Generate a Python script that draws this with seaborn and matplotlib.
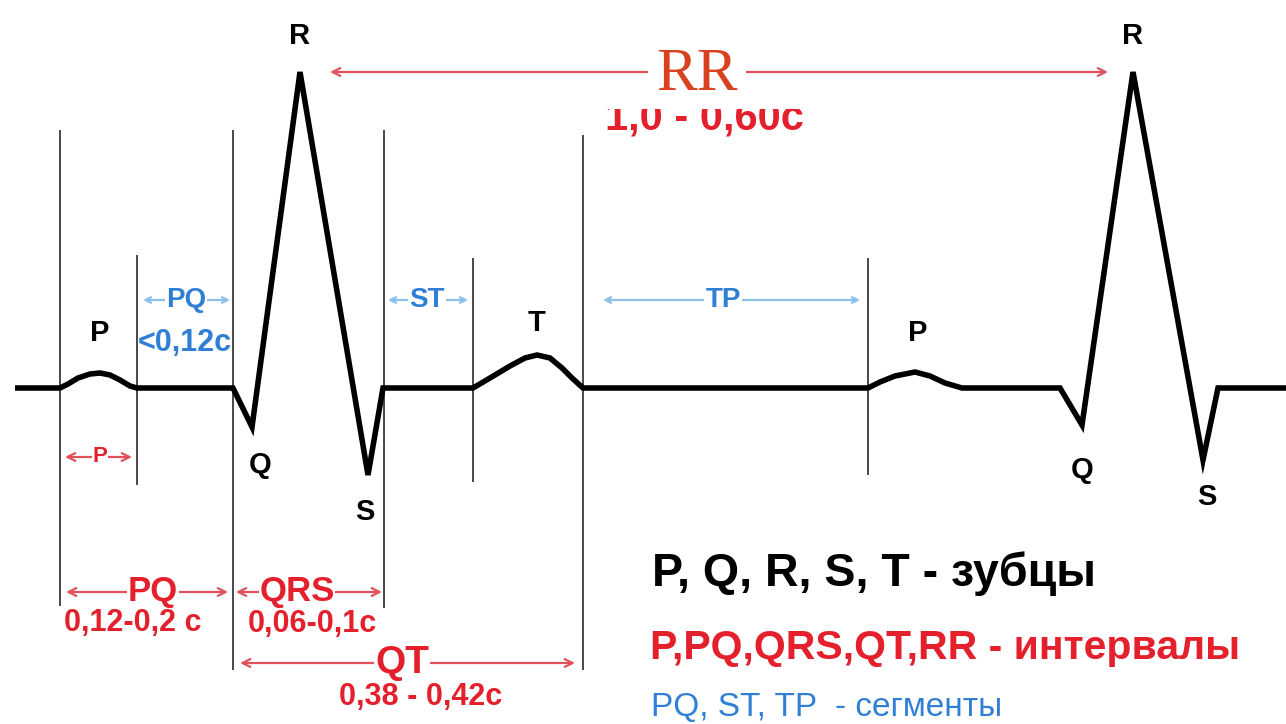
import matplotlib
matplotlib.use("Agg")
import matplotlib.pyplot as plt
import seaborn as sns
from matplotlib.patches import Rectangle

# ---------------- data (pixel-space time / amplitude of the schematic ECG) -------------
ecg_t = [15, 60, 68, 78, 90, 100, 110, 120, 130, 137,
         233, 252, 300, 368, 383,
         473, 490, 510, 525, 537, 550, 562, 572, 583,
         868, 880, 895, 915, 930, 945, 962,
         1060, 1082, 1133, 1203, 1218, 1286]
ecg_v = [388, 388, 384, 378, 374, 373, 375, 380, 386, 388,
         388, 427, 72, 475, 388,
         388, 378, 366, 358, 355, 358, 368, 378, 388,
         388, 382, 376, 372, 376, 383, 388,
         388, 425, 72, 460, 388, 388]

# vertical marker lines
vline_x = [60, 137, 233, 384, 473, 583, 868]
vline_top = [130, 255, 130, 130, 258, 135, 258]
vline_bottom = [606, 485, 670, 608, 482, 670, 475]

# wave labels
wave_labels = ["R", "R", "P", "P", "T", "Q", "S", "Q", "S"]
wave_x = [300, 1133, 100, 918, 537, 260, 365, 1082, 1207]
wave_y = [36, 36, 333, 333, 323, 465, 512, 470, 497]

# blue segment arrows (label, start, end, text x)
seg_labels = ["PQ", "ST", "TP"]
seg_start = [143, 388, 603]
seg_end = [230, 468, 860]
seg_text_x = [186, 427, 723]

# red interval arrows
int_labels = ["P", "PQ", "QRS", "QT", "RR"]
int_start = [65, 66, 236, 240, 330]
int_end = [132, 228, 382, 575, 1108]
int_y = [457, 592, 592, 663, 72]
int_text_x = [100, 153, 297, 402, 697]
int_size = [16, 25, 25, 28, 44]

dur_texts = ["0,12-0,2 с", "0,06-0,1с", "0,38 - 0,42с"]
dur_x = [133, 312, 421]
dur_y = [623, 624, 697]

legend_texts = ["P, Q, R, S, T - зубцы", "P,PQ,QRS,QT,RR - интервалы", "PQ, ST, TP  - сегменты"]
legend_y = [574, 648, 708]
legend_size = [33.5, 29.5, 24]

RED = "#e3202b"
RED_ARROW = "#e2505a"
BLUE = "#2f7fd6"
BLUE_ARROW = "#8cbfe9"

sns.set_theme(style="white")
plt.rcParams["font.family"] = ["Liberation Sans", "DejaVu Sans"]
plt.rcParams["font.weight"] = "bold"

fig = plt.figure(figsize=(12.86, 7.24), dpi=100)
ax = fig.add_axes([0, 0, 1, 1])
ax.set_xlim(0, 1286)
ax.set_ylim(724, 0)
ax.axis("off")

# vertical lines
ax.vlines(vline_x, vline_top, vline_bottom, color="#3a3a3a", lw=1.3, zorder=1)

# ECG trace
sns.lineplot(x=ecg_t, y=ecg_v, sort=False, estimator=None, color="black", lw=4.0,
             ax=ax, zorder=3)
for ln in ax.lines:
    ln.set_solid_joinstyle("miter")
    ln.set_solid_capstyle("butt")

# wave labels
for lab, x, y in zip(wave_labels, wave_x, wave_y):
    ax.text(x, y, lab, ha="center", va="center", fontsize=21, color="black", fontweight="bold")

# blue segments
for lab, s, e, tx in zip(seg_labels, seg_start, seg_end, seg_text_x):
    ax.annotate("", xy=(s, 300), xytext=(e, 300),
                arrowprops=dict(arrowstyle="<->", color=BLUE_ARROW, lw=1.6,
                                shrinkA=0, shrinkB=0, mutation_scale=10))
    ax.text(tx, 300, lab, ha="center", va="center", fontsize=20, color=BLUE,
            fontweight="bold", bbox=dict(facecolor="white", edgecolor="none", pad=1.0))
ax.text(185, 343, "<0,12с", ha="center", va="center", fontsize=22, color=BLUE, fontweight="bold")

# red intervals
for lab, s, e, y, tx, fs in zip(int_labels, int_start, int_end, int_y, int_text_x, int_size):
    ax.annotate("", xy=(s, y), xytext=(e, y),
                arrowprops=dict(arrowstyle="<->", color=RED_ARROW, lw=1.6,
                                shrinkA=0, shrinkB=0, mutation_scale=14))
    if lab == "RR":
        ax.text(tx, y + 3, lab, ha="center", va="center", fontsize=fs, color="#d8401f",
                family=["Liberation Serif", "DejaVu Serif"], fontweight="normal",
                bbox=dict(facecolor="white", edgecolor="none", pad=6))
    else:
        ax.text(tx, y, lab, ha="center", va="center", fontsize=fs, color=RED,
                fontweight="bold", bbox=dict(facecolor="white", edgecolor="none", pad=0.5))

for t, x, y in zip(dur_texts, dur_x, dur_y):
    ax.text(x, y, t, ha="center", va="center", fontsize=22, color=RED, fontweight="bold")

# RR duration, its top partly hidden as in the reference
rr_txt = ax.text(704, 130, "1,0 - 0,60с", ha="center", va="baseline", fontsize=30,
                 color=RED, fontweight="bold")
clip_patch = Rectangle((580, 109), 250, 40, transform=ax.transData,
                       facecolor="none", edgecolor="none")
ax.add_patch(clip_patch)
rr_txt.set_clip_path(clip_patch)
rr_txt.set_clip_on(True)

# legend texts
ax.text(652, legend_y[0], legend_texts[0], ha="left", va="center", fontsize=legend_size[0],
        color="black", fontweight="bold")
ax.text(650, legend_y[1], legend_texts[1], ha="left", va="center", fontsize=legend_size[1],
        color=RED, fontweight="bold")
ax.text(651, legend_y[2], legend_texts[2], ha="left", va="center", fontsize=legend_size[2],
        color=BLUE, fontweight="normal")

fig.savefig("out.png", dpi=100, facecolor="white")
